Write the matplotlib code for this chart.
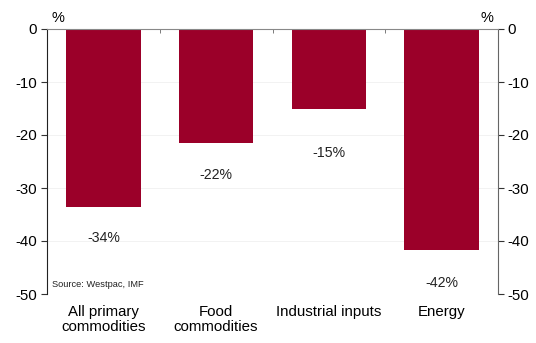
import numpy as np
import matplotlib.pyplot as plt

plt.rcParams['font.family'] = ['Liberation Sans', 'DejaVu Sans']
plt.rcParams['axes.unicode_minus'] = False

categories = ['All primary\ncommodities', 'Food\ncommodities', 'Industrial inputs', 'Energy']
values = [-33.6, -21.5, -15.1, -41.7]
labels = ['-34%', '-22%', '-15%', '-42%']
label_offset = [-5.8, -6.0, -8.3, -6.2]

bar_color = '#9b0029'

fig = plt.figure(figsize=(5.36, 3.43), dpi=100)
ax = fig.add_axes([47/536, 1 - 294/343, 451/536, 265/343])

x = np.arange(len(categories))
ax.bar(x, values, width=0.66, color=bar_color, zorder=2)

for xi, v, lab, off in zip(x, values, labels, label_offset):
    ax.text(xi, v + off, lab, ha='center', va='center', fontsize=10.2, color='#222222')

ax.set_xlim(-0.5, 3.5)
ax.set_ylim(-50, 0)
ax.set_yticks(np.arange(-50, 1, 10))
ax.grid(axis='y', color='#f0f0f0', lw=0.6, zorder=0)

ax.set_xticks(x)
ax.set_xticklabels(categories, fontsize=10.8, linespacing=1.05)
ax.tick_params(axis='x', length=0, pad=8)
ax.set_xticks([0.5, 1.5, 2.5], minor=True)
ax.tick_params(axis='x', which='minor', direction='in', length=3, color='#666666', top=True, bottom=False)

ax.tick_params(axis='y', labelsize=10.8, length=4, pad=3, color='#333333', left=True, right=True,
               labelleft=True, labelright=True)

ax.spines['top'].set_color('#888888')
ax.spines['bottom'].set_visible(False)
ax.spines['left'].set_color('#222222')
ax.spines['right'].set_color('#666666')

ax.text(0.012, 0.02, 'Source: Westpac, IMF', transform=ax.transAxes, fontsize=6.7,
        ha='left', va='bottom', color='#222222')
fig.text(58/536, 1 - 18/343, '%', fontsize=10.5, ha='center', va='center')
fig.text(487/536, 1 - 18/343, '%', fontsize=10.5, ha='center', va='center')

fig.savefig('out.png', dpi=100)
